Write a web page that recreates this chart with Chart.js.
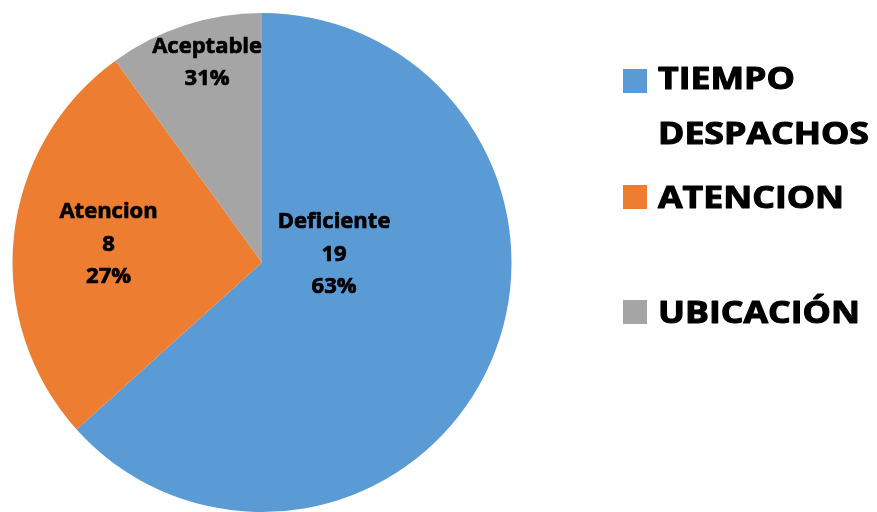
<!DOCTYPE html>
<html>
<head>
<meta charset="utf-8">
<script src="https://cdn.jsdelivr.net/npm/chart.js@4"></script>
<style>
  html, body { margin: 0; padding: 0; background: #ffffff; }
  #wrap { width: 877px; height: 512px; position: relative; }
</style>
</head>
<body>
<div id="wrap"><canvas id="c" width="877" height="512"></canvas></div>
<script>
// ---- data ----
const categories = ["Deficiente", "Atencion", "Aceptable"];
const values = [19, 8, 3];
const valueLabels = ["19", "8", ""];
const percentLabels = ["63%", "27%", "31%"];
const legendLabels = [["TIEMPO", "DESPACHOS"], ["ATENCION"], ["UBICACIÓN"]];

// ---- styles ----
const colors = ["#5B9BD5", "#ED7D31", "#A5A5A5"];
const labelFont = "bold 22px 'Open Sans'";
const labelLineH = 32.5;
// label anchor (first baseline) as fraction of radius from centre
const labelAnchor = [[0.289, -0.138], [-0.615, -0.178], [-0.220, -0.840]];

const legendFont = "bold 31px 'Open Sans'";
const legendStretch = 1.15;
const legendBox = { x: 623, size: 24 };
const legendTextX = 658;
const legendBaselines = [[89, 144], [208], [323]];
const legendBoxTops = [69, 185, 300];

const labelPlugin = {
  id: 'sliceLabels',
  afterDatasetsDraw(chart) {
    const ctx = chart.ctx;
    const meta = chart.getDatasetMeta(0);
    ctx.save();
    ctx.font = labelFont;
    ctx.fillStyle = '#000';
    ctx.strokeStyle = '#000';
    ctx.lineWidth = 0.7;
    ctx.lineJoin = 'round';
    ctx.textAlign = 'center';
    ctx.textBaseline = 'alphabetic';
    meta.data.forEach((arc, i) => {
      const r = arc.outerRadius;
      const x = arc.x + labelAnchor[i][0] * r;
      let y = arc.y + labelAnchor[i][1] * r;
      const lines = [categories[i]];
      if (valueLabels[i]) lines.push(valueLabels[i]);
      lines.push(percentLabels[i]);
      lines.forEach((t, k) => {
        ctx.fillText(t, x, y + k * labelLineH);
        ctx.strokeText(t, x, y + k * labelLineH);
      });
    });
    ctx.restore();

    // legend
    ctx.save();
    ctx.font = legendFont;
    ctx.textBaseline = 'alphabetic';
    ctx.textAlign = 'left';
    ctx.lineJoin = 'round';
    legendLabels.forEach((lines, i) => {
      ctx.fillStyle = colors[i];
      ctx.fillRect(legendBox.x, legendBoxTops[i], legendBox.size, legendBox.size);
      ctx.fillStyle = '#000';
      ctx.strokeStyle = '#000';
      ctx.lineWidth = 1.1;
      lines.forEach((t, k) => {
        ctx.save();
        ctx.translate(legendTextX, legendBaselines[i][k]);
        ctx.scale(legendStretch, 1);
        ctx.fillText(t, 0, 0);
        ctx.strokeText(t, 0, 0);
        ctx.restore();
      });
    });
    ctx.restore();
  }
};

new Chart(document.getElementById('c'), {
  type: 'pie',
  data: {
    labels: categories,
    datasets: [{
      data: values,
      backgroundColor: colors,
      borderWidth: 0
    }]
  },
  options: {
    responsive: false,
    animation: false,
    layout: { padding: { left: 12, top: 13, right: 365, bottom: 0 } },
    plugins: {
      legend: { display: false },
      tooltip: { enabled: false }
    }
  },
  plugins: [labelPlugin]
});
</script>
</body>
</html>
